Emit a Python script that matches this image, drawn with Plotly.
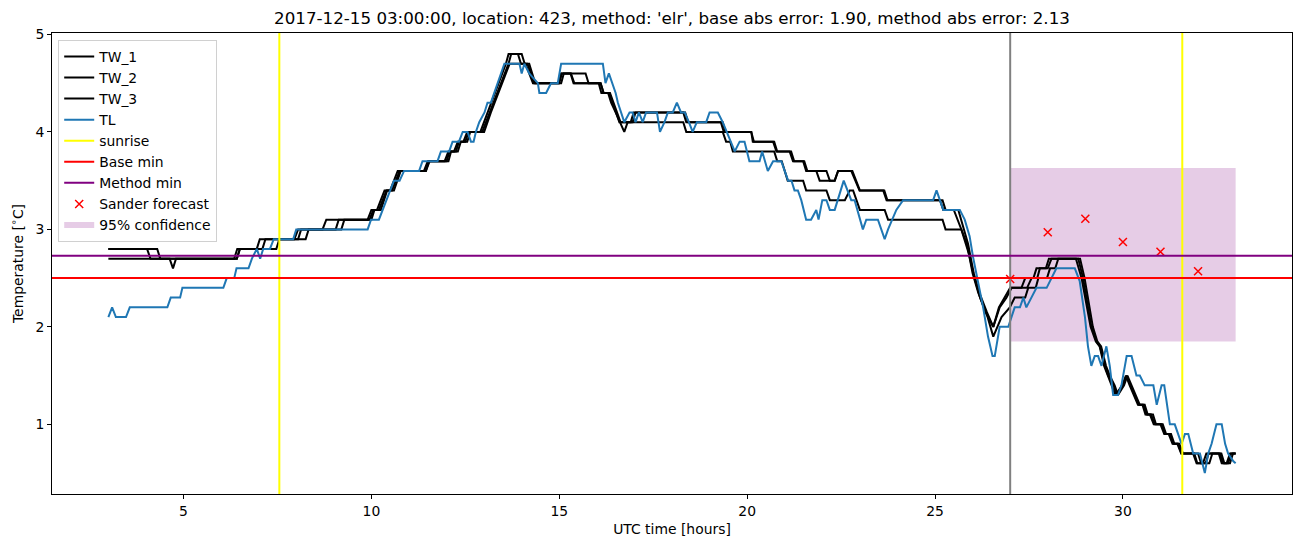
import plotly.graph_objects as go

# ---------------- data ----------------
tw1_t = [3.0, 4.03, 4.12, 6.35, 6.43, 6.95, 7.03, 7.95, 8.05, 8.7, 8.8, 9.9, 10.0, 10.15, 10.25, 10.35, 10.5, 10.6, 10.7,
         11.4, 11.5, 11.95, 12.05, 12.2, 12.3, 12.45, 12.55, 12.9, 13.0, 13.1, 13.2, 13.3, 13.4, 13.5, 13.58, 13.65, 13.9,
         13.98, 14.2, 14.28, 14.36, 14.98, 15.05, 15.7, 15.78, 16.05, 16.12, 16.33, 16.42, 16.52, 16.6, 16.9, 16.98, 18.3,
         18.38, 19.35, 19.42, 20.11, 20.15, 20.69, 20.78, 21.13, 21.22, 21.49, 21.57, 21.84, 21.93, 22.33, 22.42, 22.77,
         22.88, 22.99, 23.62, 23.71, 25.13, 25.22, 25.5, 25.6, 25.85, 26.0, 26.15, 26.35, 26.55, 26.7, 26.85, 27.0,
         27.3, 27.4, 27.62, 27.7, 27.95, 28.03, 28.81, 28.94, 29.05, 29.16, 29.3, 29.39, 29.52, 29.61, 29.75, 29.83,
         30.0, 30.1, 30.2, 30.32, 30.42, 30.55, 30.63, 30.75, 30.85, 31.03, 31.12, 31.25, 31.34, 31.47, 31.56, 31.87,
         31.96, 32.13, 32.22, 32.58, 32.67, 32.76, 32.85, 33.0]
tw1_v = [2.8, 2.8, 2.7, 2.7, 2.8, 2.8, 2.9, 2.9, 3.0, 3.0, 3.1, 3.1, 3.2, 3.2, 3.3, 3.4, 3.4, 3.5, 3.6,
         3.6, 3.7, 3.7, 3.8, 3.8, 3.9, 3.9, 4.0, 4.0, 4.1, 4.2, 4.3, 4.4, 4.5, 4.6, 4.7, 4.8, 4.8,
         4.7, 4.7, 4.6, 4.5, 4.5, 4.6, 4.6, 4.5, 4.5, 4.4, 4.4, 4.3, 4.2, 4.1, 4.1, 4.2, 4.2,
         4.1, 4.1, 4.0, 4.0, 3.9, 3.9, 3.8, 3.8, 3.7, 3.7, 3.6, 3.6, 3.5, 3.5, 3.6, 3.6,
         3.5, 3.4, 3.4, 3.3, 3.3, 3.2, 3.2, 3.1, 2.85, 2.55, 2.35, 2.15, 2.0, 2.2, 2.3, 2.4,
         2.4, 2.5, 2.5, 2.6, 2.6, 2.7, 2.7, 2.5, 2.25, 2.0, 1.85, 1.8, 1.6, 1.5, 1.4, 1.3,
         1.4, 1.5, 1.4, 1.3, 1.2, 1.2, 1.1, 1.1, 1.0, 1.0, 0.9, 0.9, 0.8, 0.8, 0.7, 0.7,
         0.6, 0.6, 0.7, 0.7, 0.6, 0.6, 0.7, 0.7]

tw2_t = [3.0, 4.3, 4.38, 6.42, 6.5, 7.1, 7.18, 8.05, 8.13, 9.05, 9.13, 9.95, 10.05, 10.2, 10.3, 10.4, 10.55, 10.65, 10.75,
         11.45, 11.53, 12.0, 12.08, 12.25, 12.33, 12.5, 12.58, 12.95, 13.05, 13.15, 13.25, 13.35, 13.45, 13.55, 13.65,
         13.72, 14.0, 14.08, 14.15, 14.25, 14.33, 15.0, 15.07, 15.31, 15.4, 16.1, 16.18, 16.35, 16.45, 16.55, 16.63,
         16.95, 17.03, 18.35, 18.43, 19.3, 19.38, 20.11, 20.18, 20.72, 20.8, 21.17, 21.25, 21.52, 21.6, 22.11, 22.2,
         22.33, 22.42, 22.8, 22.9, 23.0, 23.65, 23.73, 25.2, 25.28, 25.62, 25.7, 25.88, 26.03, 26.18, 26.38, 26.55,
         26.72, 26.9, 27.04, 27.45, 27.57, 27.72, 27.79, 28.0, 28.1, 28.86, 28.98, 29.08, 29.2, 29.32, 29.42, 29.55,
         29.65, 29.78, 29.87, 30.03, 30.12, 30.23, 30.35, 30.45, 30.58, 30.66, 30.8, 30.88, 31.06, 31.15, 31.28, 31.37,
         31.5, 31.6, 32.0, 32.08, 32.3, 32.38, 32.62, 32.7, 32.85, 32.93, 33.0]
tw2_v = [2.8, 2.8, 2.7, 2.7, 2.8, 2.8, 2.9, 2.9, 3.0, 3.0, 3.1, 3.1, 3.2, 3.2, 3.3, 3.4, 3.4, 3.5, 3.6,
         3.6, 3.7, 3.7, 3.8, 3.8, 3.9, 3.9, 4.0, 4.0, 4.1, 4.2, 4.3, 4.4, 4.5, 4.6, 4.7,
         4.8, 4.8, 4.7, 4.7, 4.6, 4.5, 4.5, 4.6, 4.6, 4.5, 4.5, 4.4, 4.4, 4.3, 4.2, 4.1,
         4.1, 4.2, 4.2, 4.1, 4.1, 4.0, 4.0, 3.9, 3.9, 3.8, 3.8, 3.7, 3.7, 3.6, 3.6, 3.5,
         3.5, 3.6, 3.6, 3.5, 3.4, 3.4, 3.3, 3.3, 3.2, 3.2, 3.1, 2.85, 2.55, 2.35, 2.15, 2.0,
         2.2, 2.3, 2.4, 2.4, 2.5, 2.5, 2.6, 2.6, 2.7, 2.7, 2.5, 2.25, 2.0, 1.85, 1.8, 1.6,
         1.5, 1.4, 1.3, 1.4, 1.5, 1.4, 1.3, 1.2, 1.2, 1.1, 1.1, 1.0, 1.0, 0.9, 0.9, 0.8,
         0.8, 0.7, 0.7, 0.6, 0.6, 0.7, 0.7, 0.6, 0.6, 0.7, 0.7]

tw3_t = [3.0, 4.63, 4.72, 4.8, 6.42, 6.5, 7.47, 7.55, 8.25, 8.33, 9.2, 9.28, 10.0, 10.08, 10.25, 10.33, 10.42, 10.6, 10.68,
         10.78, 11.45, 11.55, 12.05, 12.12, 12.3, 12.38, 12.55, 12.63, 13.0, 13.08, 13.18, 13.28, 13.38, 13.48, 13.58,
         13.68, 14.1, 14.2, 14.3, 15.05, 15.12, 15.3, 15.38, 16.1, 16.18, 16.3, 16.38, 16.5, 16.62, 16.73, 16.82, 18.3,
         18.38, 19.35, 19.44, 19.55, 19.62, 20.72, 20.8, 20.92, 21.0, 21.08, 21.49, 21.57, 22.11, 22.2, 22.6, 22.73,
         22.82, 22.9, 23.0, 23.66, 23.75, 25.2, 25.28, 25.7, 25.9, 26.05, 26.2, 26.4, 26.55, 26.77, 26.99, 27.12,
         27.4, 27.48, 27.68, 27.75, 27.98, 28.06, 28.2, 28.28, 28.75, 28.9, 29.02, 29.14, 29.28, 29.38, 29.5, 29.6,
         29.72, 29.8, 29.98, 30.08, 30.18, 30.3, 30.4, 30.52, 30.6, 30.72, 30.82, 31.0, 31.1, 31.22, 31.32, 31.45,
         31.55, 31.9, 31.98, 32.2, 32.28, 32.55, 32.63, 32.8, 32.88, 33.0]
tw3_v = [2.7, 2.7, 2.6, 2.7, 2.7, 2.8, 2.8, 2.9, 2.9, 3.0, 3.0, 3.1, 3.1, 3.2, 3.2, 3.3, 3.4, 3.4, 3.5,
         3.6, 3.6, 3.7, 3.7, 3.8, 3.8, 3.9, 3.9, 4.0, 4.0, 4.1, 4.2, 4.3, 4.4, 4.5, 4.6,
         4.7, 4.7, 4.6, 4.5, 4.5, 4.6, 4.6, 4.5, 4.5, 4.4, 4.4, 4.3, 4.2, 4.1, 4.0, 4.1, 4.1,
         4.0, 4.0, 3.9, 3.9, 3.8, 3.8, 3.7, 3.7, 3.6, 3.5, 3.5, 3.4, 3.4, 3.3, 3.3, 3.4,
         3.4, 3.3, 3.2, 3.2, 3.1, 3.1, 3.0, 3.0, 2.75, 2.5, 2.3, 2.1, 1.9, 2.1, 2.2, 2.3,
         2.3, 2.4, 2.4, 2.5, 2.5, 2.6, 2.6, 2.7, 2.7, 2.5, 2.25, 2.0, 1.85, 1.8, 1.6, 1.5,
         1.4, 1.3, 1.4, 1.5, 1.4, 1.3, 1.2, 1.2, 1.1, 1.1, 1.0, 1.0, 0.9, 0.9, 0.8, 0.8,
         0.7, 0.7, 0.6, 0.6, 0.7, 0.7, 0.6, 0.6, 0.7, 0.7]

tl_t = [3.0, 3.1, 3.2, 3.47, 3.57, 4.57, 4.66, 4.91, 4.97, 6.06, 6.15, 6.35, 6.41, 6.73, 6.82, 6.95, 7.04, 7.12, 7.3,
        7.4, 7.92, 8.0, 9.9, 9.99, 10.2, 10.3, 10.4, 10.5, 10.6, 10.75, 10.87, 11.27, 11.36, 11.76, 11.85, 12.07,
        12.16, 12.33, 12.43, 12.56, 12.65, 12.72, 12.78, 12.87, 13.01, 13.09, 13.18, 13.27, 13.36, 13.45, 13.54,
        13.94, 14.0, 14.07, 14.2, 14.43, 14.47, 14.65, 14.78, 14.96, 15.05, 16.16, 16.23, 16.32, 16.42, 16.5, 16.56,
        16.65, 16.73, 16.87, 16.95, 17.03, 17.12, 17.22, 17.31, 17.6, 17.68, 17.8, 17.89, 18.02, 18.13, 18.24,
        18.34, 18.45, 18.55, 18.66, 18.91, 19.0, 19.22, 19.35, 19.67, 19.8, 19.93, 20.06, 20.33, 20.4, 20.55,
        20.69, 20.91, 21.09, 21.18, 21.26, 21.35, 21.44, 21.57, 21.7, 21.84, 21.9, 22.0, 22.11, 22.2, 22.33,
        22.57, 22.77, 22.86, 23.08, 23.17, 23.48, 23.66, 23.75, 23.97, 24.15, 24.95, 25.04, 25.13, 25.22, 25.66,
        25.79, 25.92, 26.01, 26.15, 26.28, 26.41, 26.53, 26.59, 26.72, 26.95, 27.03, 27.12, 27.26, 27.35, 27.43,
        27.57, 27.7, 27.97, 28.1, 28.23, 28.72, 28.85, 28.99, 29.07, 29.16, 29.25, 29.34, 29.43, 29.56, 29.65,
        29.74, 29.87, 29.96, 30.1, 30.23, 30.36, 30.45, 30.58, 30.81, 30.9, 31.03, 31.1, 31.25, 31.38, 31.47,
        31.56, 31.65, 31.74, 31.87, 32.05, 32.18, 32.27, 32.36, 32.49, 32.63, 32.72, 32.8, 32.94, 33.0]
tl_v = [2.1, 2.2, 2.1, 2.1, 2.2, 2.2, 2.3, 2.3, 2.4, 2.4, 2.5, 2.5, 2.6, 2.6, 2.7, 2.8, 2.7, 2.8, 2.8,
        2.9, 2.9, 3.0, 3.0, 3.1, 3.1, 3.2, 3.3, 3.4, 3.5, 3.5, 3.6, 3.6, 3.7, 3.7, 3.8, 3.8,
        3.9, 3.9, 4.0, 4.0, 3.9, 3.9, 4.0, 4.1, 4.2, 4.3, 4.3, 4.4, 4.5, 4.6, 4.7,
        4.7, 4.6, 4.7, 4.6, 4.5, 4.4, 4.4, 4.5, 4.5, 4.7, 4.7, 4.5, 4.6, 4.5, 4.4, 4.3,
        4.2, 4.1, 4.2, 4.2, 4.1, 4.2, 4.1, 4.2, 4.2, 4.0, 4.1, 4.2, 4.2, 4.3, 4.2,
        4.2, 4.1, 4.0, 4.1, 4.1, 4.2, 4.2, 4.1, 3.8, 3.9, 3.9, 3.7, 3.7, 3.8, 3.6,
        3.7, 3.7, 3.5, 3.5, 3.4, 3.4, 3.3, 3.1, 3.1, 3.2, 3.1, 3.3, 3.3, 3.2, 3.2,
        3.5, 3.3, 3.3, 3.0, 3.1, 3.1, 2.9, 3.0, 3.2, 3.3, 3.3, 3.4, 3.3, 3.2, 3.2,
        3.1, 2.93, 2.72, 2.45, 2.2, 1.9, 1.7, 1.7, 2.0, 2.0, 2.1, 2.2, 2.2, 2.3, 2.2,
        2.3, 2.4, 2.4, 2.5, 2.6, 2.6, 2.47, 2.1, 1.8, 1.6, 1.7, 1.7, 1.6, 1.8, 1.6,
        1.3, 1.3, 1.4, 1.7, 1.7, 1.5, 1.5, 1.4, 1.4, 1.2, 1.4, 1.4, 1.0, 1.0, 0.9,
        0.8, 0.9, 0.9, 0.7, 0.7, 0.5, 0.7, 0.8, 1.0, 1.0, 0.8, 0.7, 0.62, 0.6]

sunrise_times = [7.55, 31.58]
forecast_time = 27.0
base_min = 2.5
method_min = 2.73
sander_t = [27, 28, 29, 30, 31, 32]
sander_v = [2.49, 2.97, 3.11, 2.87, 2.77, 2.57]
conf_t = [27.0, 33.0]
conf_lo = 1.85
conf_hi = 3.63

x_range = [1.5, 34.5]
y_range = [0.285, 5.015]
x_ticks = [5, 10, 15, 20, 25, 30]
y_ticks = [1, 2, 3, 4, 5]

title_text = "2017-12-15 03:00:00, location: 423, method: 'elr', base abs error: 1.90, method abs error: 2.13"

# ---------------- figure ----------------
fig = go.Figure()

# confidence band (drawn first, beneath lines)
fig.add_trace(go.Scatter(
    x=[conf_t[0], conf_t[1], conf_t[1], conf_t[0], conf_t[0]],
    y=[conf_lo, conf_lo, conf_hi, conf_hi, conf_lo],
    fill="toself", fillcolor="rgba(128,0,128,0.2)", mode="none",
    name="95% confidence", showlegend=False, hoverinfo="skip"))

lw = 2.0
for name, t, v in [("TW_1", tw1_t, tw1_v), ("TW_2", tw2_t, tw2_v), ("TW_3", tw3_t, tw3_v)]:
    fig.add_trace(go.Scatter(x=t, y=v, mode="lines", name=name,
                             line=dict(color="black", width=lw)))
fig.add_trace(go.Scatter(x=tl_t, y=tl_v, mode="lines", name="TL",
                         line=dict(color="#1f77b4", width=lw)))

# legend proxies for reference lines
fig.add_trace(go.Scatter(x=[None], y=[None], mode="lines", name="sunrise",
                         line=dict(color="#ffff00", width=lw)))
fig.add_trace(go.Scatter(x=[None], y=[None], mode="lines", name="Base min",
                         line=dict(color="red", width=lw)))
fig.add_trace(go.Scatter(x=[None], y=[None], mode="lines", name="Method min",
                         line=dict(color="#800080", width=lw)))

fig.add_trace(go.Scatter(x=sander_t, y=sander_v, mode="markers", name="Sander forecast",
                         marker=dict(symbol="x-thin", size=8, color="red",
                                     line=dict(color="red", width=1.5))))
fig.add_trace(go.Scatter(x=[None], y=[None], fill="toself", fillcolor="rgba(128,0,128,0.2)",
                         mode="none", name="95% confidence"))

shapes = []
for s in sunrise_times:
    shapes.append(dict(type="line", xref="x", yref="paper", x0=s, x1=s, y0=0, y1=1,
                       line=dict(color="#ffff00", width=lw)))
shapes.append(dict(type="line", xref="x", yref="paper", x0=forecast_time, x1=forecast_time, y0=0, y1=1,
                   line=dict(color="gray", width=lw)))
shapes.append(dict(type="line", xref="paper", yref="y", x0=0, x1=1, y0=base_min, y1=base_min,
                   line=dict(color="red", width=lw)))
shapes.append(dict(type="line", xref="paper", yref="y", x0=0, x1=1, y0=method_min, y1=method_min,
                   line=dict(color="#800080", width=lw)))

font_family = "DejaVu Sans"
fs = 13.9
fig.update_layout(
    width=1302, height=547,
    margin=dict(l=52, r=10, t=33, b=53),
    paper_bgcolor="white", plot_bgcolor="white",
    font=dict(family=font_family, size=fs, color="black"),
    title=dict(text=title_text, x=0.5, xref="paper", xanchor="center",
               y=1 - 18 / 547, yref="container", yanchor="middle",
               font=dict(size=16.7, family=font_family)),
    shapes=shapes,
    showlegend=True,
    legend=dict(x=0.005, y=0.985, xanchor="left", yanchor="top",
                bgcolor="rgba(255,255,255,0.85)", bordercolor="#d0d0d0", borderwidth=1,
                font=dict(size=fs, family=font_family), tracegroupgap=0, itemwidth=30),
)
fig.update_xaxes(range=x_range, tickvals=x_ticks, showgrid=False, zeroline=False,
                 showline=True, mirror=True, linecolor="black", linewidth=1,
                 ticks="outside", ticklen=4, tickcolor="black",
                 title=dict(text="UTC time [hours]", standoff=6, font=dict(size=fs)))
fig.update_yaxes(range=y_range, tickvals=y_ticks, showgrid=False, zeroline=False,
                 showline=True, mirror=True, linecolor="black", linewidth=1,
                 ticks="outside", ticklen=4, tickcolor="black",
                 title=dict(text="Temperature [<sup>∘</sup>C]", standoff=8, font=dict(size=fs)))

fig.write_html("out.html")
